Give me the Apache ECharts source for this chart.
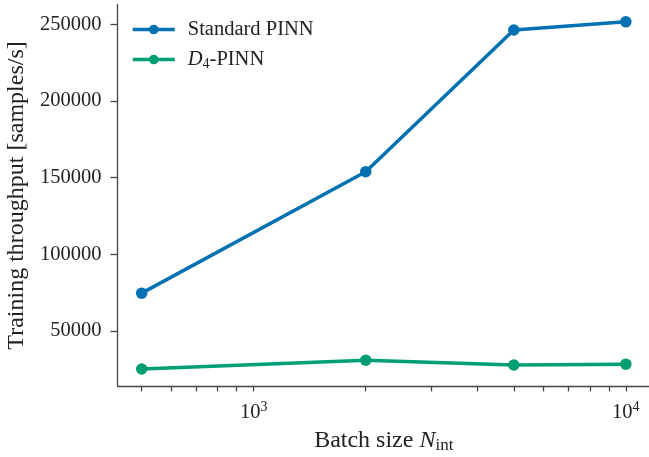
<!DOCTYPE html>
<html>
<head>
<meta charset="utf-8">
<script src="https://cdn.jsdelivr.net/npm/echarts@6/dist/echarts.min.js"></script>
<style>html,body{margin:0;padding:0;background:#fff;}#c{width:649px;height:457px;}</style>
</head>
<body>
<div id="c"></div>
<script>
const batchSizes = [500, 2000, 5000, 10000];
const standardPINN = [74700, 153900, 246300, 251600];
const d4PINN = [25200, 31000, 27800, 28400];
const yTicks = [50000, 100000, 150000, 200000, 250000];
const xMajorTicks = [1000, 10000];
const xMinorTicks = [500, 600, 700, 800, 900, 1000, 2000, 3000, 4000, 5000, 6000, 7000, 8000, 9000, 10000];

const FONT = '"Liberation Serif", "DejaVu Serif", serif';
const TXT = '#222';
const AX = '#444';
const NAMEFS = 24;

const chart = echarts.init(document.getElementById('c'), null, {renderer: 'canvas'});
chart.setOption({
  animation: false,
  backgroundColor: '#fff',
  textStyle: {fontFamily: FONT},
  grid: {left: 117.5, right: -1, top: 4.5, bottom: 70.6, containLabel: false, outerBoundsMode: 'none'},
  legend: {
    left: 131, top: 19, orient: 'vertical', padding: 0,
    itemWidth: 42, itemHeight: 12, itemGap: 9,
    lineStyle: {width: 3.5},
    textStyle: {
      fontFamily: FONT, fontSize: 20.5, color: TXT, padding: [0, 0, 0, 8],
      rich: {
        n: {fontFamily: FONT, fontSize: 20.5, color: TXT, lineHeight: 24},
        i: {fontFamily: FONT, fontSize: 20.5, color: TXT, fontStyle: 'italic', lineHeight: 24},
        s: {fontFamily: FONT, fontSize: 14, color: TXT, verticalAlign: 'bottom', lineHeight: 16}
      }
    },
    formatter: function (name) {
      if (name === 'D4-PINN') return '{i|D}{s|4}{n|-PINN}';
      return '{n|' + name + '}';
    },
    data: ['Standard PINN', 'D4-PINN']
  },
  xAxis: {
    type: 'log', logBase: 10, min: 430.5, max: 11614,
    name: '{n|Batch size }{i|N}{s|int}',
    nameLocation: 'middle', nameGap: 40,
    nameTextStyle: {
      rich: {
        n: {fontFamily: FONT, fontSize: NAMEFS, color: TXT, lineHeight: 28},
        i: {fontFamily: FONT, fontSize: NAMEFS, color: TXT, fontStyle: 'italic', lineHeight: 28},
        s: {fontFamily: FONT, fontSize: 17, color: TXT, verticalAlign: 'bottom', lineHeight: 19}
      }
    },
    axisLine: {show: true, lineStyle: {color: AX, width: 1.3}},
    axisTick: {show: true, length: 5, lineStyle: {color: AX, width: 1.3}, customValues: xMinorTicks},
    minorTick: {show: false},
    splitLine: {show: false},
    axisLabel: {
      customValues: xMajorTicks,
      margin: 14,
      formatter: function (v) { return '{b|10}{p|' + Math.round(Math.log10(v)) + '}'; },
      rich: {
        b: {fontFamily: FONT, fontSize: 20.5, color: TXT, lineHeight: 24},
        p: {fontFamily: FONT, fontSize: 14, color: TXT, verticalAlign: 'top', lineHeight: 16}
      }
    }
  },
  yAxis: {
    type: 'value', min: 13880, max: 262920,
    name: 'Training throughput [samples/s]',
    nameLocation: 'middle', nameGap: 88,
    nameTextStyle: {fontFamily: FONT, fontSize: NAMEFS, color: TXT},
    axisLine: {show: true, lineStyle: {color: AX, width: 1.3}},
    axisTick: {show: true, length: 7, lineStyle: {color: AX, width: 1.3}, customValues: yTicks},
    splitLine: {show: false},
    axisLabel: {
      customValues: yTicks, margin: 16,
      formatter: function (v) { return String(Math.round(v)); },
      fontFamily: FONT, fontSize: 20.5, color: TXT
    }
  },
  series: [
    {
      name: 'Standard PINN', type: 'line',
      data: batchSizes.map((x, i) => [x, standardPINN[i]]),
      symbol: 'circle', symbolSize: 11.5,
      lineStyle: {color: '#0072B2', width: 3.5},
      itemStyle: {color: '#0072B2'}
    },
    {
      name: 'D4-PINN', type: 'line',
      data: batchSizes.map((x, i) => [x, d4PINN[i]]),
      symbol: 'circle', symbolSize: 11.5,
      lineStyle: {color: '#009E73', width: 3.5},
      itemStyle: {color: '#009E73'}
    }
  ]
});
</script>
</body>
</html>
